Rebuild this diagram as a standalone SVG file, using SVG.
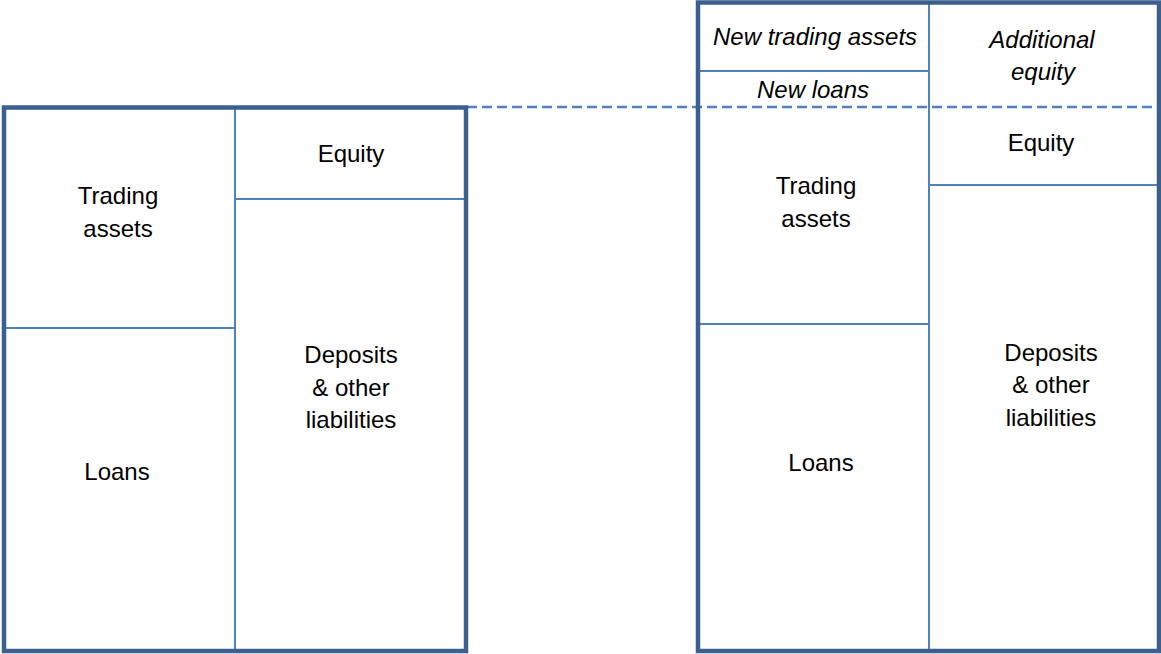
<svg xmlns="http://www.w3.org/2000/svg" width="1161" height="654" viewBox="0 0 1161 654">
<style>
.frame{fill:none;stroke:#3B5F8F;stroke-width:4.5}
.div{fill:none;stroke:#4F81BD;stroke-width:2}
.dash{fill:none;stroke:#4F81BD;stroke-width:2.5;stroke-dasharray:10 5}
text{font-family:"Liberation Sans",Arial,sans-serif;font-size:24px;fill:#000;text-anchor:middle}
.it{font-style:italic}
</style>
<rect width="1161" height="654" fill="#fff"/>
<g id="connectors">
<line class="dash" x1="467" y1="107" x2="1159" y2="107"/>
</g>
<g id="left-balance">
<line class="div" x1="235" y1="107" x2="235" y2="652"/>
<line class="div" x1="235" y1="199" x2="466" y2="199"/>
<line class="div" x1="4" y1="328" x2="235" y2="328"/>
<rect class="frame" x="4" y="107.5" width="462" height="543.5"/>
</g>
<g id="left-trading"><text x="118" y="204">Trading</text><text x="118" y="237">assets</text></g>
<g id="left-loans"><text x="117" y="480">Loans</text></g>
<g id="left-equity"><text x="351" y="162">Equity</text></g>
<g id="left-deposits"><text x="351" y="363">Deposits</text><text x="351" y="396">&amp; other</text><text x="351" y="428">liabilities</text></g>
<g id="right-balance">
<line class="div" x1="929" y1="2" x2="929" y2="652"/>
<line class="div" x1="698" y1="71" x2="929" y2="71"/>
<line class="div" x1="929" y1="185" x2="1159" y2="185"/>
<line class="div" x1="698" y1="324" x2="929" y2="324"/>
<rect class="frame" x="698" y="2.5" width="461" height="648.5"/>
</g>
<g id="right-new-trading"><text class="it" x="815" y="45">New trading assets</text></g>
<g id="right-new-loans"><text class="it" x="813" y="98">New loans</text></g>
<g id="right-additional-equity"><text class="it" x="1042" y="48">Additional</text><text class="it" x="1043" y="80">equity</text></g>
<g id="right-equity"><text x="1041" y="151">Equity</text></g>
<g id="right-trading"><text x="816" y="194">Trading</text><text x="816" y="227">assets</text></g>
<g id="right-loans"><text x="821" y="471">Loans</text></g>
<g id="right-deposits"><text x="1051" y="361">Deposits</text><text x="1051" y="393">&amp; other</text><text x="1051" y="426">liabilities</text></g>
</svg>
